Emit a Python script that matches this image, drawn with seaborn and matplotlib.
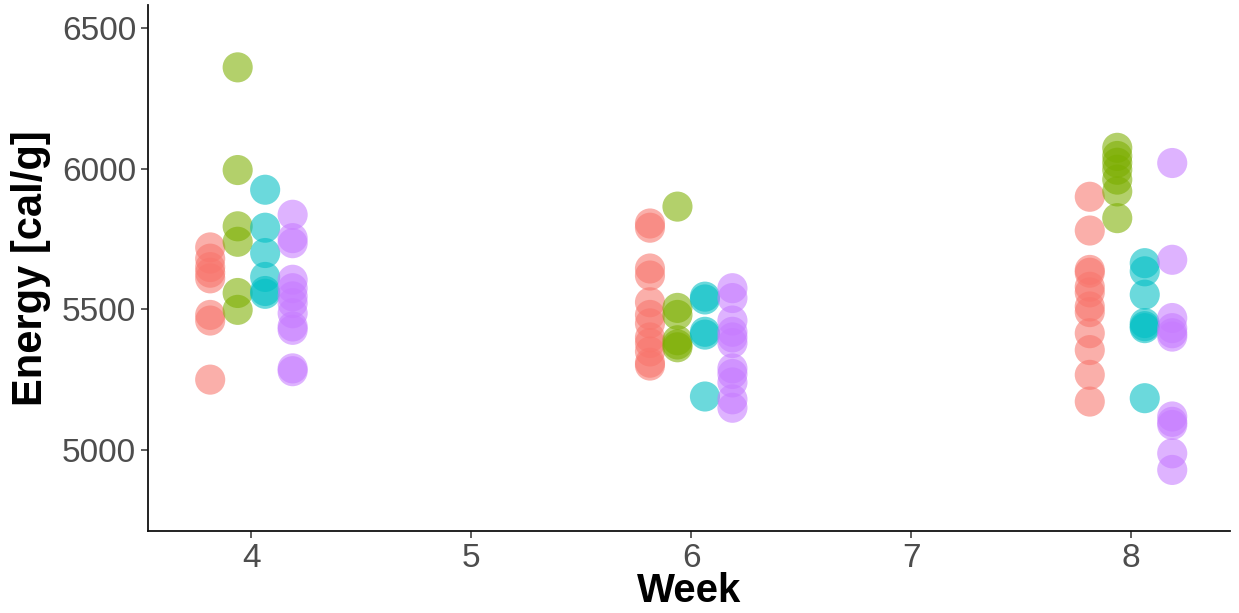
import numpy as np
import pandas as pd
import matplotlib
matplotlib.use("Agg")
import matplotlib.pyplot as plt
import seaborn as sns

# Energy content per sample, by week and group
groups = ["A", "B", "C", "D"]
colors = ["#F8766D", "#7CAE00", "#00BFC4", "#C77CFF"]

week4_A = [5720, 5680, 5650, 5630, 5610, 5480, 5460, 5250]
week4_B = [6360, 5995, 5795, 5740, 5558, 5498]
week4_C = [5925, 5790, 5700, 5615, 5565, 5555]
week4_D = [5836, 5753, 5735, 5605, 5575, 5546, 5522, 5486, 5439, 5427, 5290, 5280]

week6_A = [5805, 5790, 5645, 5620, 5525, 5480, 5450, 5400, 5380, 5350, 5310, 5300]
week6_B = [5865, 5505, 5480, 5390, 5375, 5365]
week6_C = [5545, 5535, 5420, 5410, 5190]
week6_D = [5575, 5540, 5460, 5420, 5400, 5380, 5290, 5270, 5240, 5180, 5150]

week8_A = [5900, 5780, 5640, 5630, 5580, 5560, 5510, 5490, 5415, 5355, 5267, 5172]
week8_B = [6074, 6045, 6021, 5996, 5961, 5919, 5824]
week8_C = [5664, 5635, 5552, 5451, 5440, 5433, 5184]
week8_D = [6020, 5676, 5469, 5433, 5415, 5403, 5119, 5100, 5089, 4988, 4929]

weeks = [4, 6, 8]
x_ticks = [4, 5, 6, 7, 8]
y_ticks = [5000, 5500, 6000, 6500]

series = {
    4: [week4_A, week4_B, week4_C, week4_D],
    6: [week6_A, week6_B, week6_C, week6_D],
    8: [week8_A, week8_B, week8_C, week8_D],
}

rows = []
for w in weeks:
    for g, vals in zip(groups, series[w]):
        for v in vals:
            rows.append({"Week": w, "Group": g, "Energy": v})
df = pd.DataFrame(rows)

# side-by-side dodge of the four groups around each week
dodge_width = 0.5
n = len(groups)
offsets = {g: (i - (n - 1) / 2) * dodge_width / n for i, g in enumerate(groups)}
df["x"] = df["Week"] + df["Group"].map(offsets)

sns.set_theme(style="ticks")
plt.rcParams["font.family"] = ["Liberation Sans", "DejaVu Sans"]

fig = plt.figure(figsize=(12.39, 6.13), dpi=100)
ax = fig.add_axes([0.1195, 0.1338, 0.9927 - 0.1195, 0.992 - 0.1338])

sns.scatterplot(
    data=df, x="x", y="Energy", hue="Group", hue_order=groups,
    palette=colors, s=470, alpha=0.58, linewidth=0, legend=False, ax=ax,
)

ax.set_xlim(3.53, 8.45)
ax.set_ylim(4712, 6582)
ax.set_xticks(x_ticks)
ax.set_yticks(y_ticks)
ax.set_xticklabels([str(t) for t in x_ticks])
ax.set_yticklabels([str(t) for t in y_ticks])
ax.tick_params(axis="both", labelsize=24, labelcolor="#4D4D4D",
               color="#333333", length=5, width=1.1)
ax.set_xlabel("Week", fontsize=29, fontweight="bold", labelpad=-1, color="black")
ax.set_ylabel("Energy [cal/g]", fontsize=30, fontweight="bold", labelpad=8, color="black")

for side in ["top", "right"]:
    ax.spines[side].set_visible(False)
for side in ["left", "bottom"]:
    ax.spines[side].set_linewidth(1.3)
    ax.spines[side].set_color("#111111")

fig.savefig("out.png", dpi=100)
